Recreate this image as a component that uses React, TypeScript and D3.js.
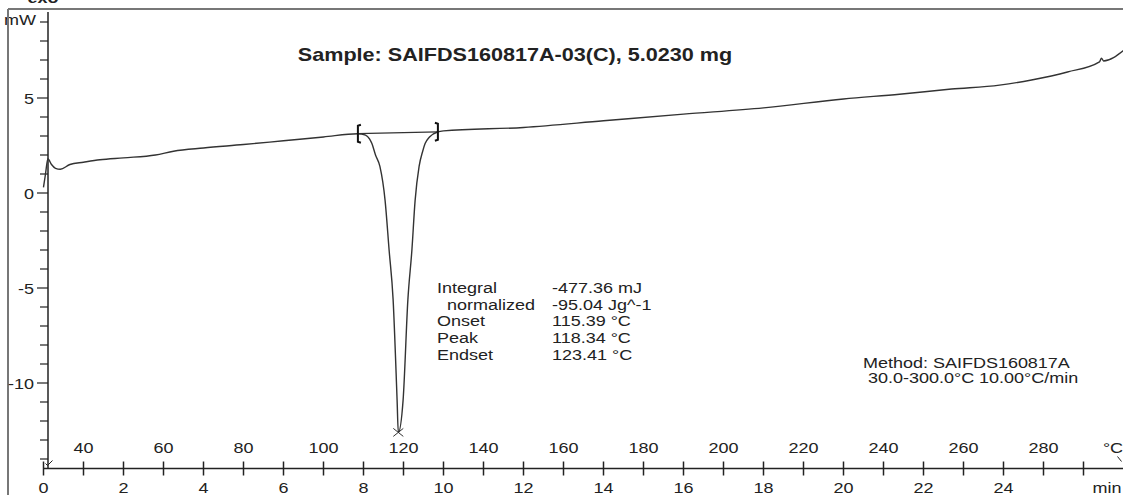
import * as d3 from 'd3';

// DSC heat flow curve (time in min, heat flow in mW)
const timeMin = [0, 0.05, 0.11, 0.2, 0.3, 0.42, 0.66, 1, 1.41, 2, 2.8, 3.25, 4, 5, 6, 7, 7.86, 8.05, 8.15, 8.21, 8.3, 8.41, 8.54, 8.64, 8.74, 8.84, 8.87, 8.99, 9.11, 9.21, 9.29, 9.39, 9.48, 9.54, 9.65, 9.86, 10, 12, 14, 16, 18, 20, 21.4, 22.7, 23.9, 24.7, 25.6, 26.4, 26.45, 26.5, 27];
const heatFlow = [0.3, 1.0, 1.8, 1.5, 1.3, 1.25, 1.5, 1.62, 1.75, 1.85, 2.0, 2.2, 2.37, 2.55, 2.75, 2.95, 3.12, 3.05, 2.85, 2.6, 2.0, 1.4, -0.4, -3.0, -5.6, -10.9, -12.6, -10.9, -5.6, -3.0, -0.4, 1.4, 2.2, 2.6, 2.95, 3.22, 3.27, 3.45, 3.8, 4.15, 4.48, 4.95, 5.2, 5.47, 5.68, 5.95, 6.37, 6.9, 7.1, 6.95, 7.5];

// integration limits and peak
const limitTimes = [7.86, 9.86];
const limitValues = [3.12, 3.22];
const peakTime = 8.87;
const peakValue = -12.6;

const minuteTicks = d3.range(0, 27);
const minuteLabels = ['0', '2', '4', '6', '8', '10', '12', '14', '16', '18', '20', '22', '24'];
const tempLabels = ['40', '60', '80', '100', '120', '140', '160', '180', '200', '220', '240', '260', '280'];
const yTicks = d3.range(-14, 10);
const yLabels = ['-10', '-5', '0', '5'];

const resultNames = ['Integral', '  normalized', 'Onset', 'Peak', 'Endset'];
const resultValues = ['-477.36 mJ', '-95.04 Jg^-1', '115.39 °C', '118.34 °C', '123.41 °C'];

const title = 'Sample: SAIFDS160817A-03(C), 5.0230 mg';
const methodLines = ['Method: SAIFDS160817A', ' 30.0-300.0°C 10.00°C/min'];

const W = 1123;
const H = 495;
const FONT = '"Liberation Sans", Arial, sans-serif';
const INK = '#222';

const x = d3.scaleLinear().domain([0, 27]).range([43.5, 1123.5]);
const xT = d3.scaleLinear().domain([30, 300]).range([x(0), x(27)]);
const y = d3.scaleLinear().domain([-14.5, 9.5]).range([468.5, 12.5]);

// text in the picture is stretched horizontally
const Txt = ({ x: tx, y: ty, size = 15, anchor = 'start', bold = false, children }: any) => (
  <text
    transform={`translate(${tx},${ty}) scale(1.2,1)`}
    textAnchor={anchor}
    fontFamily={FONT}
    fontSize={size}
    fontWeight={bold ? 'bold' : 'normal'}
    fill={INK}
    style={{ whiteSpace: 'pre' }}
  >
    {children}
  </text>
);

const App = () => {
  const pts = timeMin.map((t, i) => [t, heatFlow[i]] as [number, number]);
  const line = d3.line<[number, number]>()
    .x(d => x(d[0]))
    .y(d => y(d[1]))
    .curve(d3.curveMonotoneX);

  const axisY = y(-14.5);
  const lx0 = x(limitTimes[0]), ly0 = y(limitValues[0]);
  const lx1 = x(limitTimes[1]), ly1 = y(limitValues[1]);
  const px = x(peakTime), py = y(peakValue);

  return (
    <svg width={W} height={H} style={{ position: 'absolute', left: 0, top: 0, background: '#fff' }}>
      <rect width={W} height={H} fill="#fff" />

      {/* cut off exo label and unit */}
      <Txt x={17} y={3} size={15} bold>^exo</Txt>
      <Txt x={4} y={25} size={15}>mW</Txt>

      {/* frame */}
      <line x1={8} x2={8} y1={9} y2={H} stroke="#777" strokeWidth={2} />
      <line x1={8} x2={W} y1={9} y2={9} stroke="#777" strokeWidth={2} />

      {/* y axis */}
      <line x1={48} x2={48} y1={12} y2={axisY} stroke={INK} strokeWidth={1.5} />
      {yTicks.map(v => (
        <line key={v} x1={v % 5 === 0 ? 37 : 40} x2={48} y1={y(v)} y2={y(v)} stroke={INK} strokeWidth={1.2} />
      ))}
      {yLabels.map(l => (
        <Txt key={l} x={34} y={y(+l) + 5.5} anchor="end">{l}</Txt>
      ))}

      {/* x axis: minutes below, temperature above */}
      <line x1={x(0)} x2={W} y1={axisY} y2={axisY} stroke={INK} strokeWidth={1.5} />
      {minuteTicks.map(t => (
        <line key={t} x1={x(t)} x2={x(t)} y1={axisY - 7} y2={axisY + 7} stroke={INK} strokeWidth={1.5} />
      ))}
      {minuteLabels.map(l => (
        <Txt key={l} x={x(+l)} y={493} anchor="middle">{l}</Txt>
      ))}
      <Txt x={1107} y={493} anchor="middle">min</Txt>
      {tempLabels.map(l => (
        <Txt key={l} x={xT(+l)} y={453} anchor="middle">{l}</Txt>
      ))}
      <Txt x={1113} y={453} anchor="middle">°C</Txt>

      {/* curve start / end markers */}
      <path d={`M${x(0) + 2},${axisY - 5} L${x(0) + 4},${axisY - 3} L${x(0) + 9},${axisY - 8}`} fill="none" stroke={INK} strokeWidth={1} />
      <path d={`M${x(26.85)},${axisY - 12} L${x(27) - 2},${axisY - 7}`} fill="none" stroke={INK} strokeWidth={1} />

      {/* heat flow curve */}
      <path d={line(pts) ?? ''} fill="none" stroke="#333" strokeWidth={1.4} />

      {/* integration baseline and limits */}
      <line x1={lx0} y1={ly0} x2={lx1} y2={ly1} stroke="#333" strokeWidth={1.2} />
      <path d={`M${lx0 + 3},${ly0 - 9} L${lx0},${ly0 - 8} L${lx0},${ly0 + 8} L${lx0 + 3},${ly0 + 9}`} fill="none" stroke="#111" strokeWidth={2} />
      <path d={`M${lx1 - 3},${ly1 - 9} L${lx1},${ly1 - 8} L${lx1},${ly1 + 8} L${lx1 - 3},${ly1 + 9}`} fill="none" stroke="#111" strokeWidth={2} />
      <path d={`M${px - 5},${py - 4} L${px + 5},${py + 4} M${px - 5},${py + 4} L${px + 5},${py - 4}`} fill="none" stroke="#333" strokeWidth={1} />

      {/* title */}
      <Txt x={515} y={61} size={18} anchor="middle" bold>{title}</Txt>

      {/* results */}
      {resultNames.map((n, i) => (
        <Txt key={n} x={437} y={293 + i * 16.7}>{n}</Txt>
      ))}
      {resultValues.map((v, i) => (
        <Txt key={v} x={552} y={293 + i * 16.7}>{v}</Txt>
      ))}

      {/* method */}
      {methodLines.map((m, i) => (
        <Txt key={m} x={863} y={368 + i * 15}>{m}</Txt>
      ))}
    </svg>
  );
};

export default App;
